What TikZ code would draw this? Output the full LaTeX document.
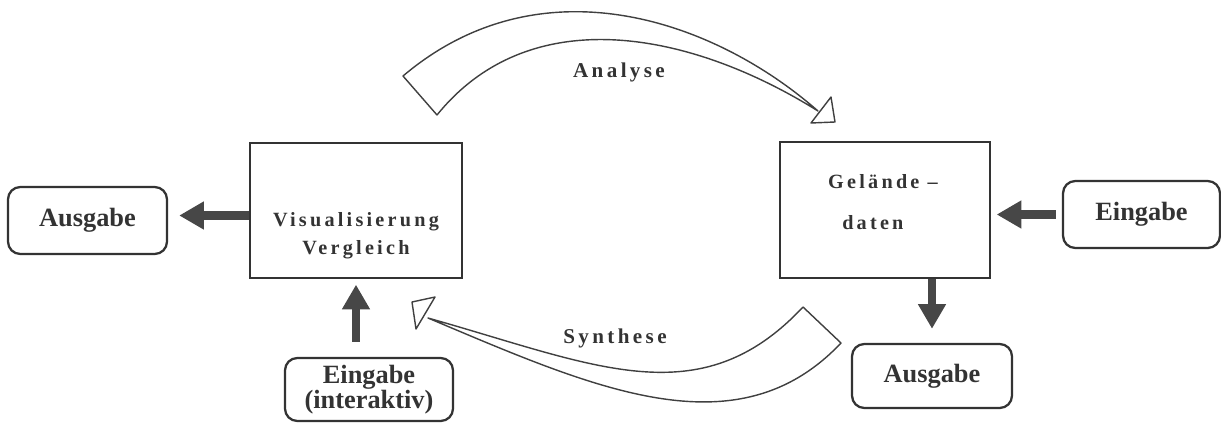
\documentclass[tikz,border=0pt]{standalone}
\usepackage{fontspec}
\setmainfont{Liberation Serif}
\newfontfamily\spaced[LetterSpace=16]{Liberation Serif}
\usetikzlibrary{arrows.meta,positioning}

\begin{document}
\begin{tikzpicture}[x=0.02cm,y=-0.02cm]
\tikzstyle block=[draw=black!80,line width=1.6pt,inner sep=0pt]
\tikzstyle io=[draw=black!80,line width=1.3pt,rounded corners=7pt,inner sep=0pt,
    font=\fontsize{15}{14}\selectfont\bfseries,text=black!80,align=center]
\tikzstyle word=[font=\fontsize{12}{14}\spaced\bfseries,text=black!80]
\tikzstyle boxword=[word,font=\fontsize{11.5}{14}\spaced\bfseries]
\tikzstyle fat=[line width=5pt,draw=black!72,-{Triangle[length=14pt,width=15pt]}]
\tikzstyle band=[draw=black!75,line width=0.8pt,fill=white,line join=round]
 \useasboundingbox (0,0) rectangle (1221,423);
 \node[block,minimum width=4.24cm,minimum height=2.7cm] (vis) at (356,210.5) {};
 \node[block,minimum width=4.2cm,minimum height=2.72cm] (gel) at (885,210) {};
 \node[boxword,align=center] (vistext) at (356,236) {Visualisierung\\[2pt]Vergleich};
 \node[boxword,align=left] (geltext) at (883,202) {Gelände –\\[9pt]\hspace{8pt}daten};
 \node[io,minimum width=3.18cm,minimum height=1.34cm] (ausl) at (87.5,220.5) {Ausgabe};
 \node[io,minimum width=3.14cm,minimum height=1.34cm] (eingr) at (1141.5,214.5) {Eingabe};
 \node[io,minimum width=3.2cm,minimum height=1.28cm] (ausr) at (932,376) {Ausgabe};
 \node[io,minimum width=3.36cm,minimum height=1.26cm] (eingi) at (369,389.5) {Eingabe\\(interaktiv)};
 \draw[fat,shorten >=6.3pt] ([yshift=-0.1cm]vis.west) -- ([yshift=-0.1cm]vis.west -| ausl.east);
 \draw[fat,shorten <=3.4pt,shorten >=3pt] (eingr.west) -- (eingr.west -| gel.east);
 \draw[fat,shorten >=8pt] (ausr.north |- gel.south) -- (ausr.north);
 \draw[fat,shorten <=8.5pt,shorten >=3pt] (vis.south |- eingi.north) -- (vis.south);
 \draw[band] (403,76) .. controls (540,-40) and (713,19) .. (818,111)
    .. controls (690,31) and (530,0) .. (437,115) -- cycle;
 \draw[band] (811,123) -- (831,97) -- (835,122) -- cycle;
 \draw[band] (841,343) .. controls (737,453) and (594,388) .. (428,318)
    .. controls (595,365) and (700,417) .. (803,307) -- cycle;
 \draw[band] (412,302) -- (435,297) -- (416,329) -- cycle;
 \node[word] (analyse) at (619,72) {Analyse};
 \node[word] (synthese) at (615,338) {Synthese};
\end{tikzpicture}
\end{document}
